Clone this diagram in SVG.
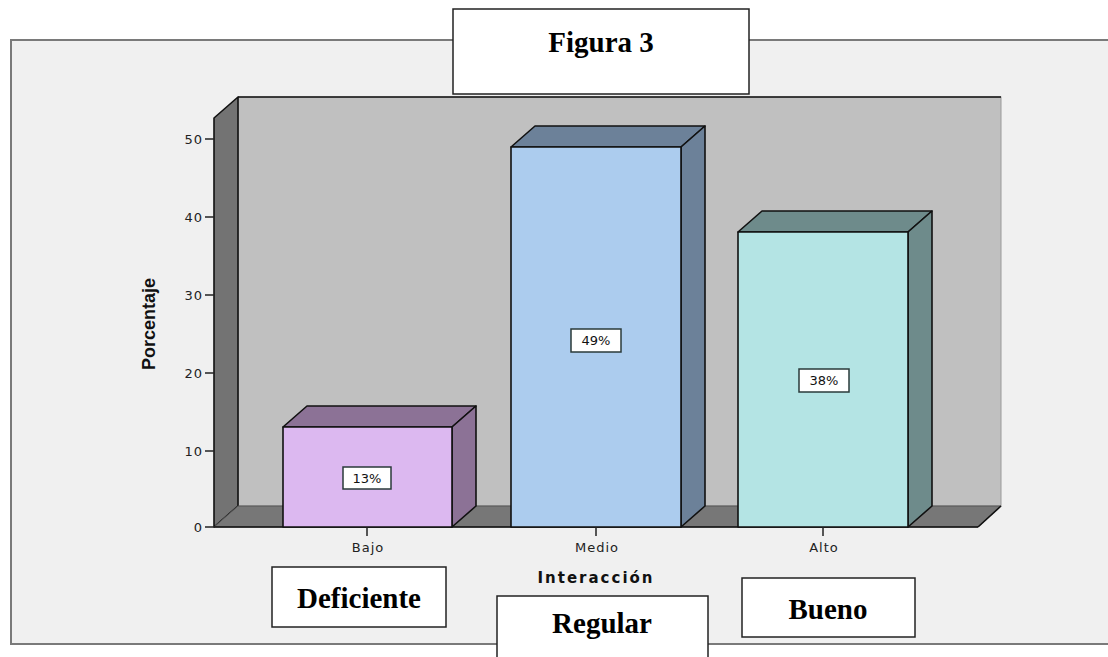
<svg xmlns="http://www.w3.org/2000/svg" width="1108" height="657" viewBox="0 0 1108 657">
<style>
.lbl{font-family:"Times New Roman","Liberation Serif",serif;font-weight:bold;font-size:29px;fill:#000;text-anchor:middle}
.box{fill:#fff;stroke:#222;stroke-width:1.5}
.tick{font-family:"DejaVu Sans",sans-serif;font-size:13px;fill:#222;letter-spacing:1px}
.edge{stroke:#111;stroke-width:1.6;stroke-linejoin:round}
.pct{fill:#fff;stroke:#2a3a3a;stroke-width:1.5}
.pctt{font-family:"DejaVu Sans",sans-serif;font-size:13px;fill:#111;text-anchor:middle}
</style>
<rect x="0" y="0" width="1108" height="657" fill="#ffffff"/>
<g id="frame">
<rect x="11" y="40" width="1110" height="604" fill="#f0f0f0" stroke="#7a7a7a" stroke-width="2"/>
</g>
<g id="plot">
<rect x="238" y="97" width="763" height="409" fill="#c0c0c0" stroke="#9a9a9a" stroke-width="1"/>
<line x1="238" y1="97" x2="1001" y2="97" class="edge"/>
<polygon points="214,118 238,97 238,506 214,527" fill="#737373" class="edge"/>
<polygon points="214,527 238,506 1001,506 978,527" fill="#777777" stroke="#555" stroke-width="1"/>
<line x1="214" y1="527" x2="978" y2="527" class="edge"/>
<line x1="978" y1="527" x2="1001" y2="506" class="edge"/>
</g>
<g id="y-axis">
<g stroke="#222" stroke-width="1.5">
<line x1="205" y1="527" x2="214" y2="527"/>
<line x1="205" y1="451" x2="214" y2="451"/>
<line x1="205" y1="373" x2="214" y2="373"/>
<line x1="205" y1="295" x2="214" y2="295"/>
<line x1="205" y1="217" x2="214" y2="217"/>
<line x1="205" y1="139" x2="214" y2="139"/>
</g>
<g class="tick" text-anchor="end">
<text x="203" y="532">0</text>
<text x="203" y="456">10</text>
<text x="203" y="378">20</text>
<text x="203" y="300">30</text>
<text x="203" y="222">40</text>
<text x="203" y="144">50</text>
</g>
<text transform="translate(155,324) rotate(-90)" font-family="Liberation Sans, Arial, sans-serif" font-weight="bold" font-size="18" text-anchor="middle" fill="#111">Porcentaje</text>
</g>
<g id="bar-bajo">
<polygon points="283,427 307,406 476,406 452,427" fill="#8c7296" class="edge"/>
<polygon points="452,427 476,406 476,506 452,527" fill="#8c7296" class="edge"/>
<rect x="283" y="427" width="169" height="100" fill="#dcb8f0" class="edge"/>
<rect x="343" y="467" width="48" height="22" class="pct"/>
<text x="367" y="483" class="pctt">13%</text>
</g>
<g id="bar-medio">
<polygon points="511,147 535,126 705,126 681,147" fill="#6c8199" class="edge"/>
<polygon points="681,147 705,126 705,506 681,527" fill="#6c8199" class="edge"/>
<rect x="511" y="147" width="170" height="380" fill="#acccee" class="edge"/>
<rect x="571" y="329" width="50" height="23" class="pct"/>
<text x="596" y="345" class="pctt">49%</text>
</g>
<g id="bar-alto">
<polygon points="738,232 762,211 932,211 908,232" fill="#6e8b8b" class="edge"/>
<polygon points="908,232 932,211 932,506 908,527" fill="#6e8b8b" class="edge"/>
<rect x="738" y="232" width="170" height="295" fill="#b4e4e4" class="edge"/>
<rect x="799" y="369" width="50" height="23" class="pct"/>
<text x="824" y="385" class="pctt">38%</text>
</g>
<g id="x-axis">
<g stroke="#222" stroke-width="1.5">
<line x1="367" y1="527" x2="367" y2="536"/>
<line x1="596" y1="527" x2="596" y2="536"/>
<line x1="823" y1="527" x2="823" y2="536"/>
</g>
<g class="tick" text-anchor="middle">
<text x="368" y="552">Bajo</text>
<text x="597" y="552">Medio</text>
<text x="824" y="552">Alto</text>
</g>
<text x="596" y="583" font-family="DejaVu Sans, sans-serif" font-weight="bold" font-size="15" letter-spacing="2" text-anchor="middle" fill="#111">Interacción</text>
</g>
<g id="title">
<rect x="453" y="9" width="296" height="85" class="box"/>
<text x="601" y="52" class="lbl" font-size="30">Figura 3</text>
</g>
<g id="deficiente">
<rect x="272" y="567" width="174" height="60" class="box"/>
<text x="359" y="608" class="lbl">Deficiente</text>
</g>
<g id="regular">
<rect x="497" y="596" width="211" height="70" class="box"/>
<text x="602" y="633" class="lbl">Regular</text>
</g>
<g id="bueno">
<rect x="742" y="578" width="173" height="59" class="box"/>
<text x="828" y="619" class="lbl">Bueno</text>
</g>
</svg>
